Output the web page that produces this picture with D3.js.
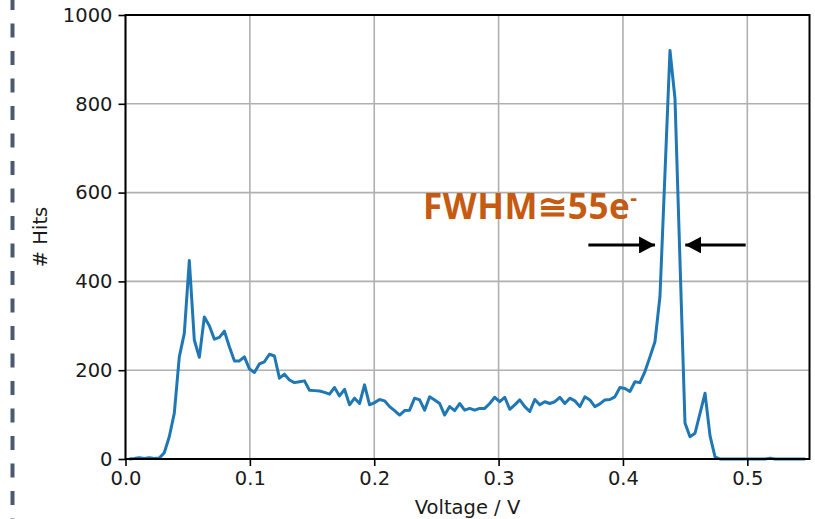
<!DOCTYPE html>
<meta charset="utf-8">
<title>Hits vs Voltage</title>
<style type="text/css">
	body { margin: 0; background: #fff; overflow: hidden; }
	svg { display: block; }
</style>
<body>
<div id="chart"></div>
</body>
<script src="https://d3js.org/d3.v7.min.js"></script>
<script>

// histogram counts per voltage bin
var hits = [
	0, 1, 3, 1, 3, 1, 2, 14, 50, 103,
	230, 283, 447, 268, 229, 320, 300, 270, 274, 288,
	253, 221, 221, 230, 203, 195, 214, 219, 236, 232,
	182, 191, 178, 172, 174, 176, 155, 154, 153, 150,
	146, 161, 142, 157, 122, 137, 125, 167, 122, 127,
	134, 131, 118, 109, 99, 109, 110, 137, 133, 110,
	140, 133, 125, 99, 118, 109, 125, 110, 114, 110,
	114, 114, 125, 139, 129, 139, 112, 122, 133, 118,
	107, 134, 122, 129, 125, 129, 139, 125, 137, 131,
	118, 140, 133, 118, 124, 133, 134, 140, 161, 159,
	152, 174, 172, 197, 230, 264, 366, 643, 920, 812,
	446, 81, 50, 58, 103, 148, 52, 5, 0, 0,
	0, 0, 0, 0, 0, 0, 0, 0, 2, 0,
	0, 0, 0, 0, 0, 0
];
// bins are evenly spaced in voltage
var binStart = 0.003, binWidth = 0.004026;
var voltages = hits.map(function(d, i) { return binStart + i * binWidth; });

var xTicks = [0.0, 0.1, 0.2, 0.3, 0.4, 0.5];
var yTicks = [0, 200, 400, 600, 800, 1000];

// annotation: label position and the two FWHM arrows (data units)
var fwhmLabel = {v: 0.2392, hits: 540, text: "FWHM\u224555e", sup: "-"};
var arrowLeft = {from: 0.3722, to: 0.4258, hits: 482};
var arrowRight = {from: 0.4987, to: 0.4501, hits: 482};

var margin = {top: 15, right: 5.5, bottom: 60, left: 125.5},
	width = 815 - margin.left - margin.right,
	height = 519 - margin.top - margin.bottom;

var svgRoot = d3.select("#chart").append("svg")
	.attr("width", 815)
	.attr("height", 519);

// dashed border on the far left
svgRoot.append("line")
	.attr("x1", 12.5).attr("x2", 12.5)
	.attr("y1", -4).attr("y2", 519)
	.attr("stroke", "#4b5a6e")
	.attr("stroke-width", 4)
	.attr("stroke-dasharray", "14,13.5");

var svg = svgRoot.append("g")
	.attr("transform", "translate(" + margin.left + "," + margin.top + ")");

var x = d3.scaleLinear().domain([0, 0.55]).range([0, width]);
var y = d3.scaleLinear().domain([0, 1000]).range([height, 0]);

// grid
svg.append("g").selectAll("line")
	.data(xTicks).enter().append("line")
	.attr("x1", function(d) { return x(d); })
	.attr("x2", function(d) { return x(d); })
	.attr("y1", 0).attr("y2", height)
	.attr("stroke", "#b0b0b0").attr("stroke-width", 1.6);

svg.append("g").selectAll("line")
	.data(yTicks).enter().append("line")
	.attr("x1", 0).attr("x2", width)
	.attr("y1", function(d) { return y(d); })
	.attr("y2", function(d) { return y(d); })
	.attr("stroke", "#b0b0b0").attr("stroke-width", 1.6);

// the curve
svg.append("path")
	.datum(hits)
	.attr("d", d3.line()
		.x(function(d, i) { return x(voltages[i]); })
		.y(function(d) { return y(d); }))
	.attr("fill", "none")
	.attr("stroke", "#1f77b4")
	.attr("stroke-width", 3)
	.attr("stroke-linejoin", "round")
	.attr("stroke-linecap", "butt");

// axes
var xAxis = d3.axisBottom(x).tickValues(xTicks).tickFormat(d3.format(".1f"))
	.tickSize(7).tickPadding(5);
var yAxis = d3.axisLeft(y).tickValues(yTicks).tickFormat(d3.format("d"))
	.tickSize(7).tickPadding(6);

var gx = svg.append("g").attr("transform", "translate(0," + height + ")").call(xAxis);
var gy = svg.append("g").call(yAxis);

[gx, gy].forEach(function(g) {
	g.select(".domain").remove();
	g.selectAll(".tick line").attr("stroke", "#000").attr("stroke-width", 1.6);
	g.selectAll(".tick text")
		.attr("fill", "#1a1a1a")
		.style("font-family", "DejaVu Sans")
		.style("font-size", "19.5px");
});

// frame
svg.append("rect")
	.attr("x", 0).attr("y", 0)
	.attr("width", width).attr("height", height)
	.attr("fill", "none")
	.attr("stroke", "#000")
	.attr("stroke-width", 2);

// axis labels
svg.append("text")
	.attr("x", width / 2)
	.attr("y", height + 55)
	.style("text-anchor", "middle")
	.style("font-family", "DejaVu Sans")
	.style("font-size", "19.5px")
	.attr("fill", "#1a1a1a")
	.text("Voltage / V");

svg.append("text")
	.attr("transform", "translate(" + (-79) + "," + (height / 2) + ") rotate(-90)")
	.style("text-anchor", "middle")
	.style("font-family", "DejaVu Sans")
	.style("font-size", "19.5px")
	.attr("fill", "#1a1a1a")
	.text("# Hits");

// FWHM annotation
var label = svg.append("text")
	.attr("x", x(fwhmLabel.v))
	.attr("y", y(fwhmLabel.hits))
	.style("font-family", "Open Sans")
	.style("font-weight", "bold")
	.style("font-size", "35px")
	.style("letter-spacing", "0.6px")
	.attr("fill", "#c55a11");
label.append("tspan").text(fwhmLabel.text);
label.append("tspan")
	.attr("dy", -14)
	.style("font-size", "21px")
	.text(fwhmLabel.sup);

var defs = svgRoot.append("defs");
defs.append("marker")
	.attr("id", "head")
	.attr("viewBox", "0 0 16 17")
	.attr("refX", 16).attr("refY", 8.5)
	.attr("markerWidth", 16).attr("markerHeight", 17)
	.attr("markerUnits", "userSpaceOnUse")
	.attr("orient", "auto")
	.append("path")
	.attr("d", "M0,0 L16,8.5 L0,17 Z")
	.attr("fill", "#000");

[arrowLeft, arrowRight].forEach(function(a) {
	svg.append("line")
		.attr("x1", x(a.from)).attr("x2", x(a.to))
		.attr("y1", y(a.hits)).attr("y2", y(a.hits))
		.attr("stroke", "#000")
		.attr("stroke-width", 3)
		.attr("marker-end", "url(#head)");
});

</script>
